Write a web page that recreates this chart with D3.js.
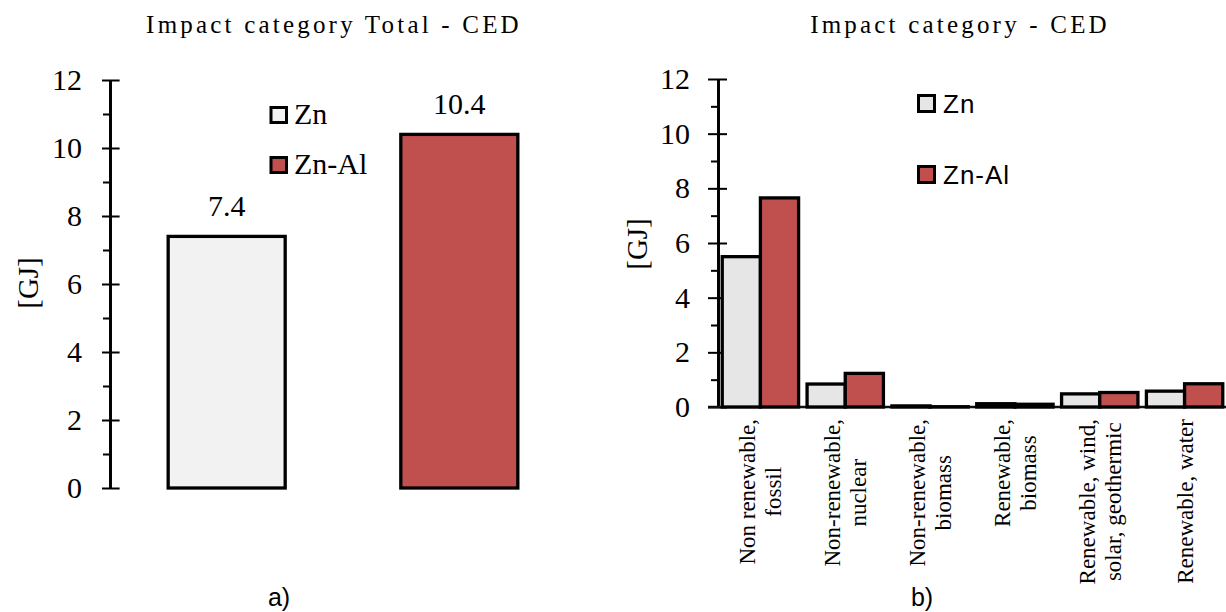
<!DOCTYPE html>
<html>
<head>
<meta charset="utf-8">
<script src="https://cdn.jsdelivr.net/npm/d3@7"></script>
<style>
  body { margin: 0; background: #fff; }
  svg { display: block; }
</style>
</head>
<body>
<svg id="chart" width="1226" height="612"></svg>
<script>
// ---- data ----
const series = ["Zn", "Zn-Al"]
const seriesFillTotal = ["#f2f2f2", "#c0504d"]
const seriesFillSplit = ["#e6e6e6", "#c0504d"]
const totals = [7.4, 10.4]
const categories = [
  ["Non renewable,", "fossil"],
  ["Non-renewable,", "nuclear"],
  ["Non-renewable,", "biomass"],
  ["Renewable,", "biomass"],
  ["Renewable, wind,", "solar, geothermic"],
  ["Renewable, water"]
]
const znValues = [5.5, 0.84, 0.04, 0.12, 0.48, 0.58]
const znAlValues = [7.65, 1.23, 0.01, 0.1, 0.53, 0.85]
const yTicks = [0, 2, 4, 6, 8, 10, 12]
const yMinorTicks = [1, 3, 5, 7, 9, 11]

const serif = "'Liberation Serif', 'Times New Roman', serif"
const sans = "'Liberation Sans', Arial, sans-serif"
const svg = d3.select('#chart')

// y axis with crossing major ticks and small minor ticks on the left
function drawYAxis(y, x0, leftLen, rightLen, pad) {
    var minor = svg.append('g').attr('transform', `translate(${x0},0)`)
        .call(d3.axisLeft(y).tickValues(yMinorTicks).tickSize(7).tickSizeOuter(0).tickFormat(''))
    var majorR = svg.append('g').attr('transform', `translate(${x0},0)`)
        .call(d3.axisRight(y).tickValues(yTicks).tickSize(rightLen).tickSizeOuter(0).tickFormat(''))
    var major = svg.append('g').attr('transform', `translate(${x0},0)`)
        .call(d3.axisLeft(y).tickValues(yTicks).tickSize(leftLen).tickSizeOuter(0).tickPadding(pad))
    ;[minor, majorR, major].forEach(g => {
        g.selectAll('line').attr('stroke', '#000').attr('stroke-width', 2)
        g.select('.domain').attr('stroke', '#000').attr('stroke-width', 2.5)
    })
    major.attr('font-family', serif).attr('font-size', 30)
    major.selectAll('text').attr('fill', '#000')
}

function title(txt, x, y) {
    svg.append('text').attr('x', x).attr('y', y)
        .attr('text-anchor', 'middle')
        .style('font-family', serif).style('font-size', '25px')
        .style('letter-spacing', '3.2px')
        .text(txt)
}

function unitLabel(x, y) {
    svg.append('text')
        .attr('transform', `translate(${x},${y}) rotate(-90)`)
        .attr('text-anchor', 'middle')
        .attr('dy', '0.35em')
        .style('font-family', serif).style('font-size', '29px')
        .text('[GJ]')
}

// ================= a) totals =================
var yL = d3.scaleLinear().domain([0, 12]).range([488, 80])
var xL = d3.scaleBand().domain(series).range([110, 576]).paddingInner(0.497).paddingOuter(0.25)

title('Impact category Total - CED', 334, 33)
unitLabel(28, 283)
drawYAxis(yL, 110, 8, 9.6, 20)

svg.append('g').selectAll('rect')
    .data(totals)
    .enter()
    .append('rect')
    .attr('x', (d, i) => xL(series[i]))
    .attr('y', d => yL(d))
    .attr('width', xL.bandwidth())
    .attr('height', d => yL(0) - yL(d))
    .attr('fill', (d, i) => seriesFillTotal[i])
    .attr('stroke', '#000')
    .attr('stroke-width', 3.3)

svg.append('g').selectAll('text')
    .data(totals)
    .enter()
    .append('text')
    .attr('x', (d, i) => xL(series[i]) + xL.bandwidth() / 2)
    .attr('y', d => yL(d) - 20)
    .attr('text-anchor', 'middle')
    .style('font-family', serif).style('font-size', '30px')
    .text(d => d3.format('.1f')(d))

// legend a)
var legA = svg.append('g')
series.forEach((s, i) => {
    var top = [107.5, 157.5][i]
    legA.append('rect').attr('x', 271).attr('y', top).attr('width', 15.5).attr('height', 15)
        .attr('fill', seriesFillTotal[i]).attr('stroke', '#000').attr('stroke-width', 3)
    legA.append('text').attr('x', 294).attr('y', top + 16)
        .style('font-family', serif).style('font-size', '30px').text(s)
})

svg.append('text').attr('x', 279).attr('y', 606).attr('text-anchor', 'middle')
    .style('font-family', sans).style('font-size', '25px').text('a)')

// ================= b) by category =================
var yR = d3.scaleLinear().domain([0, 12]).range([407, 79])
var xR = d3.scaleBand().domain(d3.range(categories.length)).range([718, 1227])
    .paddingInner(0.1).paddingOuter(0.05)
var xSub = d3.scaleBand().domain(series).range([0, xR.bandwidth()])

title('Impact category - CED', 960, 33)
unitLabel(637, 244)
drawYAxis(yR, 718, 10, 9, 18)

// category baseline
svg.append('line')
    .attr('x1', 708).attr('x2', 1226)
    .attr('y1', yR(0)).attr('y2', yR(0))
    .attr('stroke', '#111').attr('stroke-width', 2.5)

var pairs = categories.map((c, i) => [znValues[i], znAlValues[i]])
var groups = svg.append('g').selectAll('g')
    .data(pairs)
    .enter()
    .append('g')
    .attr('transform', (d, i) => `translate(${xR(i)},0)`)

groups.selectAll('rect')
    .data(d => d)
    .enter()
    .append('rect')
    .attr('x', (d, j) => xSub(series[j]))
    .attr('y', d => yR(d))
    .attr('width', xSub.bandwidth())
    .attr('height', d => yR(0) - yR(d))
    .attr('fill', (d, j) => seriesFillSplit[j])
    .attr('stroke', '#000')
    .attr('stroke-width', 3.3)

// rotated category labels, lines centred on the longest one, top at the axis
categories.forEach((lines, i) => {
    var cx = xR(i) + xR.bandwidth() / 2
    var g = svg.append('g').attr('transform', `translate(${cx},419) rotate(-90)`)
        .style('font-family', serif).style('font-size', '23px')
    var texts = lines.map((ln, j) => g.append('text')
        .attr('text-anchor', 'middle')
        .attr('y', (j - (lines.length - 1) / 2) * 26 + 8)
        .text(ln))
    var longest = d3.max(texts, t => t.node().getComputedTextLength())
    texts.forEach(t => t.attr('x', -longest / 2))
})

// legend b)
var legB = svg.append('g')
series.forEach((s, i) => {
    var top = [95.5, 166.5][i]
    legB.append('rect').attr('x', 918.5).attr('y', top).attr('width', 16).attr('height', 16)
        .attr('fill', seriesFillSplit[i]).attr('stroke', '#000').attr('stroke-width', 3)
    legB.append('text').attr('x', 943).attr('y', top + 17)
        .style('font-family', sans).style('font-size', '26px').style('letter-spacing', '1px').text(s)
})

svg.append('text').attr('x', 922).attr('y', 606).attr('text-anchor', 'middle')
    .style('font-family', sans).style('font-size', '25px').text('b)')
</script>
</body>
</html>
